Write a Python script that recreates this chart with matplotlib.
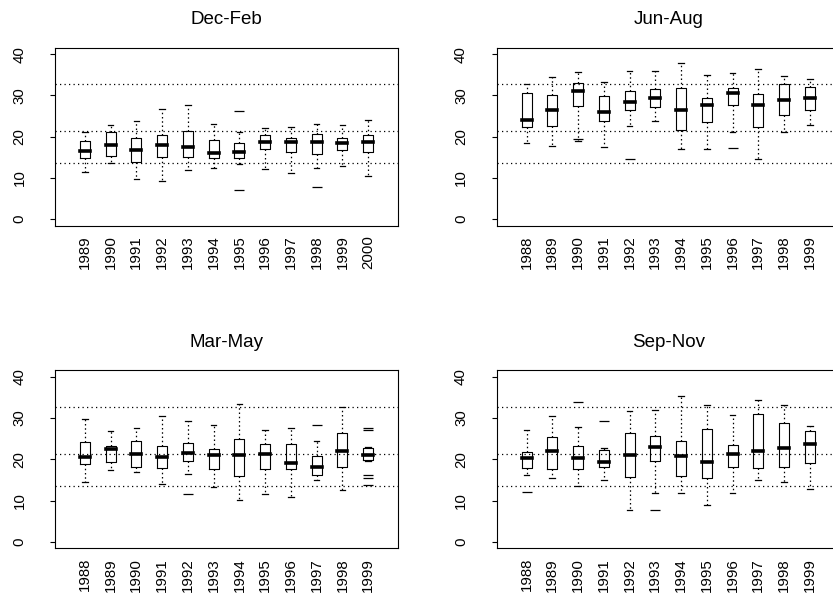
import numpy as np
import matplotlib
matplotlib.use("Agg")
import matplotlib.pyplot as plt

plt.rcParams['font.family'] = ['Liberation Sans', 'DejaVu Sans']

# reference lines (same in every panel)
ref_lines = [32.7, 21.3, 13.5]

# Dec-Feb, 1989-2000
djf_years = [str(y) for y in range(1989, 2001)]
djf_lo = [11.5, 13.7, 9.8, 9.3, 11.9, 12.4, 13.4, 12.1, 11.3, 12.3, 12.8, 10.4]
djf_q1 = [14.9, 15.3, 13.9, 15.0, 15.1, 14.8, 14.8, 17.0, 16.2, 15.8, 16.7, 16.2]
djf_med = [16.6, 18.0, 16.7, 18.0, 17.6, 16.0, 16.2, 18.7, 18.7, 18.7, 18.4, 18.7]
djf_q3 = [18.9, 21.1, 19.8, 20.3, 21.5, 19.2, 18.5, 20.5, 19.7, 20.7, 19.8, 20.5]
djf_hi = [21.2, 22.8, 23.8, 26.8, 27.6, 23.2, 21.2, 22.0, 22.4, 23.0, 22.8, 24.1]
djf_out = [[], [], [], [], [], [], [26.3, 7.0], [], [], [7.9], [], []]

# Jun-Aug, 1988-1999
jja_years = [str(y) for y in range(1988, 2000)]
jja_lo = [18.5, 17.7, 18.9, 17.5, 22.5, 23.7, 17.0, 17.0, 21.2, 14.6, 21.2, 22.9]
jja_q1 = [22.4, 22.7, 27.4, 23.9, 26.4, 27.2, 21.7, 23.6, 27.6, 22.4, 25.3, 26.6]
jja_med = [24.1, 26.5, 31.2, 26.0, 28.5, 29.3, 26.6, 27.7, 30.5, 27.7, 28.8, 29.4]
jja_q3 = [30.6, 30.1, 33.1, 29.8, 31.1, 31.5, 31.8, 29.3, 31.9, 30.3, 32.7, 32.0]
jja_hi = [32.8, 34.6, 35.8, 33.2, 36.0, 36.0, 38.0, 34.9, 35.4, 36.4, 34.7, 33.9]
jja_out = [[], [], [19.4], [], [14.7], [], [], [], [17.3], [], [], []]

# Mar-May, 1988-1999
mam_years = [str(y) for y in range(1988, 2000)]
mam_lo = [14.4, 17.5, 16.9, 14.1, 16.5, 13.3, 10.2, 11.5, 10.8, 14.9, 12.5, 19.6]
mam_q1 = [18.9, 19.4, 18.2, 17.8, 19.7, 17.7, 15.9, 17.7, 17.6, 16.3, 18.2, 19.9]
mam_med = [20.5, 22.6, 21.3, 20.5, 21.5, 21.1, 21.1, 21.3, 19.1, 18.1, 21.9, 21.0]
mam_q3 = [24.1, 23.3, 24.4, 23.2, 24.0, 22.5, 25.0, 23.7, 23.7, 20.7, 26.3, 22.8]
mam_hi = [29.9, 26.8, 27.6, 30.4, 29.3, 28.4, 33.5, 27.2, 27.6, 24.5, 32.8, 23.0]
mam_out = [[], [], [], [], [11.6], [], [], [], [], [28.4], [], [27.7, 27.1, 16.2, 15.5, 13.7]]

# Sep-Nov, 1988-1999
son_years = [str(y) for y in range(1988, 2000)]
son_lo = [16.1, 15.4, 13.4, 14.9, 7.8, 11.7, 11.7, 8.9, 11.7, 14.9, 14.4, 12.9]
son_q1 = [17.9, 17.6, 17.7, 18.1, 15.8, 19.6, 16.0, 15.5, 18.2, 18.0, 18.2, 19.0]
son_med = [20.3, 22.0, 20.2, 19.3, 21.1, 23.0, 20.8, 19.3, 21.3, 22.0, 22.7, 23.7]
son_q3 = [21.7, 25.4, 23.2, 22.3, 26.3, 25.6, 24.4, 27.4, 23.5, 31.0, 28.8, 26.8]
son_hi = [27.2, 30.6, 27.9, 22.8, 31.7, 31.9, 35.3, 33.2, 30.7, 34.5, 33.1, 28.0]
son_out = [[12.0], [], [33.9], [29.3], [], [7.6], [], [], [], [], [], []]


def make_stats(lo, q1, med, q3, hi, out):
    return [dict(whislo=a, q1=b, med=c, q3=d, whishi=e, fliers=f)
            for a, b, c, d, e, f in zip(lo, q1, med, q3, hi, out)]


def panel(ax, title, years, stats):
    n = len(years)
    pos = np.arange(1, n + 1)
    ax.bxp(stats, positions=pos, widths=0.39, capwidths=0.22,
           boxprops=dict(color='black', linewidth=0.8),
           medianprops=dict(color='black', linewidth=2.6, solid_capstyle='projecting'),
           whiskerprops=dict(color='black', linewidth=0.9, linestyle=(0, (1.2, 2.2))),
           capprops=dict(color='black', linewidth=0.9),
           flierprops=dict(marker='_', markersize=7, markeredgewidth=0.9,
                           markeredgecolor='black'))
    for v in ref_lines:
        ax.axhline(v, color='black', linewidth=0.9, linestyle=(0, (1, 2.6)), zorder=0)
    ax.set_xlim(-0.16, n + 1.16)
    ax.set_ylim(-1.6, 41.6)
    ax.set_yticks([0, 10, 20, 30, 40])
    ax.set_yticklabels(['0', '10', '20', '30', '40'], rotation=90, va='center')
    ax.set_xticks(pos)
    ax.set_xticklabels(years, rotation=90, va='top', ha='center')
    ax.tick_params(axis='y', direction='out', length=3.6, width=0.8, pad=17, labelsize=10.8)
    ax.tick_params(axis='x', length=0, pad=7, labelsize=10.8)
    for s in ax.spines.values():
        s.set_linewidth(0.8)
    ax.set_title(title, fontsize=13.5, pad=17)


fig = plt.figure(figsize=(8.33, 6.04), dpi=100)
W, H = 833.0, 604.0
pw, ph = 343.0, 178.0
ax1 = fig.add_axes([55 / W, 1 - 225.7 / H, pw / W, ph / H])
ax2 = fig.add_axes([496.7 / W, 1 - 225.7 / H, pw / W, ph / H])
ax3 = fig.add_axes([55 / W, 1 - 548.3 / H, pw / W, ph / H])
ax4 = fig.add_axes([496.7 / W, 1 - 548.3 / H, pw / W, ph / H])

panel(ax1, 'Dec-Feb', djf_years, make_stats(djf_lo, djf_q1, djf_med, djf_q3, djf_hi, djf_out))
panel(ax2, 'Jun-Aug', jja_years, make_stats(jja_lo, jja_q1, jja_med, jja_q3, jja_hi, jja_out))
panel(ax3, 'Mar-May', mam_years, make_stats(mam_lo, mam_q1, mam_med, mam_q3, mam_hi, mam_out))
panel(ax4, 'Sep-Nov', son_years, make_stats(son_lo, son_q1, son_med, son_q3, son_hi, son_out))

fig.savefig('out.png', dpi=100)
